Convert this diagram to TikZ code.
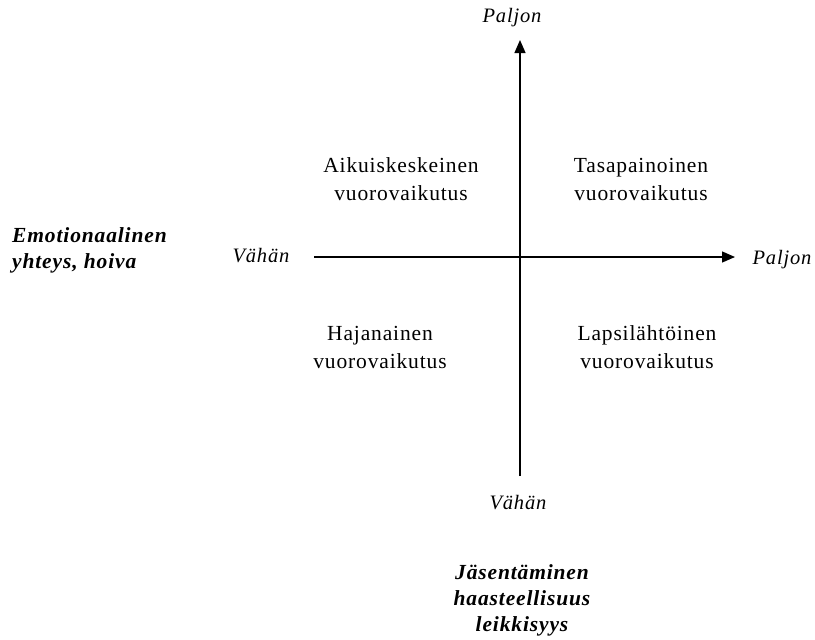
\documentclass[tikz,border=0pt]{standalone}
\usepackage{fontspec}
\setmainfont{Liberation Serif}[LetterSpace=4]
\usetikzlibrary{arrows.meta}

\begin{document}
\begin{tikzpicture}[
        x=1pt,
        y=-1pt,
        every node/.style={font=\fontsize{21.5}{28}\selectfont},
        quadrant/.style={
            align=center,
            inner sep=0pt
        },
        endlabel/.style={
            font=\fontsize{20.5}{22}\selectfont\itshape,
            inner sep=0pt
        },
        axislabel/.style={
            font=\fontsize{21.5}{26}\selectfont\bfseries\itshape,
            inner sep=0pt
        },
        axis/.style={
            line width=1.3pt,
            -{Triangle[length=13pt,width=11pt]}
        }
    ]
        \useasboundingbox (0,0) rectangle (815,640);

        % Axes: both cross at x=520, y=257
        \coordinate (xstart) at (314,257);
        \coordinate (xend)   at (735,257);
        \coordinate (ystart) at (520,476);
        \coordinate (yend)   at (520,40);

        \draw[axis] (xstart) -- (xend);
        \draw[axis] (ystart) -- (yend);

        % End labels of the axes
        \node[endlabel] (ytop)    at (512,18)  {Paljon};
        \node[endlabel] (ybottom) at (518,503) {Vähän};
        \node[endlabel] (xleft)   at (261,256) {Vähän};
        \node[endlabel] (xright)  at (782,260) {Paljon};

        % Quadrants
        \node[quadrant] (upleft)    at (401,179) {Aikuiskeskeinen\\vuorovaikutus};
        \node[quadrant] (upright)   at (641,179) {Tasapainoinen\\vuorovaikutus};
        \node[quadrant] (downleft)  at (380,347) {Hajanainen\\vuorovaikutus};
        \node[quadrant] (downright) at (647,347) {Lapsilähtöinen\\vuorovaikutus};

        % Axis names
        \node[axislabel, align=left, anchor=west] (xname)
            at (12,250) {Emotionaalinen\\yhteys, hoiva};
        \node[axislabel, align=center] (yname)
            at (522,600) {Jäsentäminen\\haasteellisuus\\leikkisyys};
    \end{tikzpicture}
\end{document}
